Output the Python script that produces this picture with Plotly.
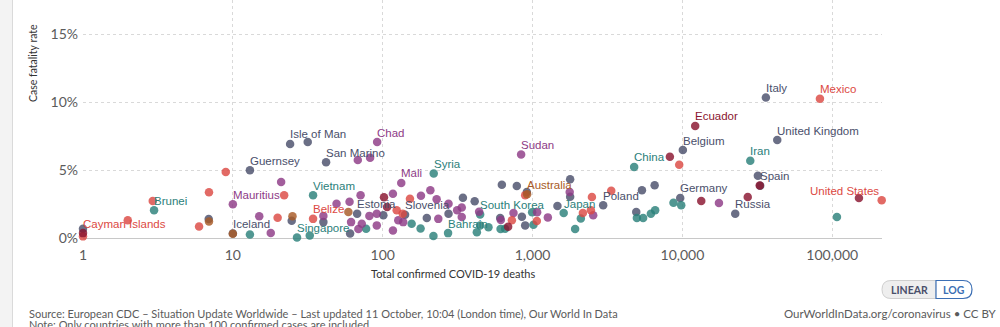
import math
import plotly.graph_objects as go

# ---------------- data ----------------
# Unlabelled points, per continent: total confirmed deaths, case fatality rate (%)
europe_deaths = [1, 31.6, 24.7, 40.2, 60.6, 101, 197, 275, 343, 411, 624, 785, 916, 608,
                 849, 893, 1466, 1782, 1782, 5370, 6530, 4920, 31900, 6.9]
europe_cfr = [0.68, 7.07, 1.27, 1.17, 0.33, 1.67, 1.48, 1.79, 2.96, 2.70, 3.93, 3.84, 3.39, 1.48,
              1.56, 0.93, 2.36, 4.33, 3.04, 3.52, 3.89, 1.91, 4.58, 1.4]

asia_deaths = [13, 77.5, 156, 179, 218, 425, 508, 612, 656, 994, 1014, 2100, 1924, 4970,
               5470, 6160, 6580, 8720, 9820, 107500, 447, 32.6]
asia_cfr = [0.26, 0.68, 1.05, 0.70, 0.15, 0.43, 0.80, 0.67, 0.68, 1.89, 0.98, 1.44, 0.67, 1.47,
            1.47, 1.79, 2.04, 2.59, 2.41, 1.54, 0.93, 0.19]

africa_deaths = [15, 17.9, 21, 68.2, 82.4, 40.2, 49.2, 60.1, 71.2, 61.5, 68.8, 72.5, 81.5, 91.3,
                 91.3, 117, 127, 137, 117, 180, 208, 229, 235, 275, 314, 337, 337, 440, 614,
                 746, 1073, 1265, 1770, 2540, 17530]
africa_cfr = [1.61, 0.37, 4.13, 5.74, 5.91, 1.63, 2.53, 2.67, 3.15, 1.17, 0.67, 1.05, 1.63, 1.79,
              0.93, 3.26, 1.30, 1.17, 0.56, 3.11, 3.52, 2.85, 1.41, 2.53, 2.04, 2.24, 1.54, 1.93,
              1.33, 1.84, 1.89, 1.52, 3.39, 1.67, 2.58]

n_america_deaths = [8.97, 6.93, 5.95, 1.99, 2.92, 19.9, 22, 124, 136, 152, 728, 893, 1068,
                    2167, 2450, 2490, 3350, 9520]
n_america_cfr = [4.87, 3.37, 0.85, 1.30, 2.73, 1.50, 3.15, 2.04, 1.79, 2.89, 1.30, 3.15, 1.26,
                 1.84, 2.04, 3.02, 3.48, 5.39]

s_america_deaths = [8250, 13360, 27290, 32820, 150700, 102, 107, 687, 1]
s_america_cfr = [5.99, 2.73, 3.02, 3.87, 2.95, 3.0, 2.28, 0.83, 0.36]

oceania_deaths = [6.93, 10, 25, 59]
oceania_cfr = [1.22, 0.31, 1.61, 1.91]

# Labelled countries
label_names = ["Cayman Islands", "Brunei", "Mauritius", "Iceland", "Guernsey", "Isle of Man",
               "San Marino", "Chad", "Vietnam", "Belize", "Singapore", "Mali", "Syria",
               "Estonia", "Slovenia", "Bahrain", "South Korea", "Sudan", "Australia", "Japan",
               "Poland", "China", "Belgium", "Ecuador", "Germany", "Iran", "Italy", "Spain",
               "Russia", "United Kingdom", "Mexico", "United States"]
label_continent = ["North America", "Asia", "Africa", "Europe", "Europe", "Europe",
                   "Europe", "Africa", "Asia", "North America", "Asia", "Africa", "Asia",
                   "Europe", "Europe", "Asia", "Asia", "Africa", "Oceania", "Asia",
                   "Europe", "Asia", "Europe", "South America", "Europe", "Asia", "Europe", "Europe",
                   "Europe", "Europe", "North America", "North America"]
label_deaths = [1, 2.98, 10, 10, 13, 24.1, 41.9, 91.8, 34.3, 34.3, 26.8, 133, 219,
                67.5, 141, 273, 447, 839, 920, 1614, 2960, 4765, 10070, 12170, 9670, 28370,
                36070, 33040, 22520, 42950, 82770, 213800]
label_cfr = [0.12, 2.04, 2.48, 0.33, 5.0, 6.93, 5.59, 7.07, 3.15, 1.41, 0.04, 4.06, 4.76,
             1.78, 1.72, 0.36, 1.74, 6.16, 3.22, 1.84, 2.41, 5.24, 6.48, 8.26, 2.95, 5.69,
             10.36, 3.85, 1.78, 7.22, 10.26, 2.78]

y_tick_vals = [0, 5, 10, 15]
y_tick_text = ["0%", "5%", "10%", "15%"]
x_tick_vals = [1, 10, 100, 1000, 10000, 100000]
x_tick_text = ["1", "10", "100", "1,000", "10,000", "100,000"]

# ---------------- styling ----------------
colors = {
    "Europe": "#4a4f6b",
    "Asia": "#2b807a",
    "Africa": "#8e3b86",
    "North America": "#dc4943",
    "South America": "#8a1530",
    "Oceania": "#a85a26",
}
continent_order = ["Europe", "Asia", "Africa", "North America", "Oceania", "South America"]
unlabelled = {
    "Europe": (europe_deaths, europe_cfr),
    "Asia": (asia_deaths, asia_cfr),
    "Africa": (africa_deaths, africa_cfr),
    "North America": (n_america_deaths, n_america_cfr),
    "South America": (s_america_deaths, s_america_cfr),
    "Oceania": (oceania_deaths, oceania_cfr),
}

W, H = 1000, 327
L_PX, R_PX, T_PX, B_PX = 83, 882, 0, 238


def px(x):
    return (x - L_PX) / (R_PX - L_PX)


def py(y):
    return (B_PX - y) / (B_PX - T_PX)


fig = go.Figure()
for cont in continent_order:
    idx = [i for i in range(len(label_names)) if label_continent[i] == cont]
    xs = [label_deaths[i] for i in idx]
    ys = [label_cfr[i] for i in idx]
    names = [label_names[i] for i in idx]
    ux, uy = unlabelled[cont]
    fig.add_trace(go.Scatter(
        x=list(ux) + xs, y=list(uy) + ys, mode="markers", name=cont,
        text=[""] * len(ux) + names,
        marker=dict(size=8.5, color=colors[cont], opacity=0.82, line=dict(width=0)),
        cliponaxis=False, showlegend=False, hoverinfo="text+x+y",
    ))

label_font = "Liberation Sans, Arial, sans-serif"
for name, cont, d, c in zip(label_names, label_continent, label_deaths, label_cfr):
    right = name == "United States"
    fig.add_annotation(
        x=math.log10(d), y=c, xref="x", yref="y", text=name, showarrow=False,
        xanchor="right" if right else "left", yanchor="middle",
        xshift=-1 if right else -2, yshift=12 if name == "Cayman Islands" else 9.5,
        font=dict(family=label_font, size=11.5, color=colors[cont]),
    )

fig.update_xaxes(
    type="log", range=[0, 5.332], tickvals=x_tick_vals, ticktext=x_tick_text,
    showgrid=True, gridcolor="#d9d9d9", griddash="3px,3px", gridwidth=1,
    zeroline=False, showline=False, ticks="", ticklabelstandoff=7,
    tickfont=dict(family="Lato, sans-serif", size=14, color="#5b5b5b"),
)
fig.update_yaxes(
    range=[0, 17.54], tickvals=y_tick_vals, ticktext=y_tick_text,
    showgrid=True, gridcolor="#d9d9d9", griddash="3px,3px", gridwidth=1,
    zeroline=True, zerolinecolor="#c8c8c8", zerolinewidth=1, showline=False, ticks="",
    ticklabelstandoff=4,
    tickfont=dict(family="Lato, sans-serif", size=14, color="#5b5b5b"),
)

txt_font = "Lato, sans-serif"
fig.add_annotation(x=px(33), y=py(63), xref="paper", yref="paper", text="Case fatality rate",
                   textangle=-90, showarrow=False, xanchor="center", yanchor="middle",
                   font=dict(family=txt_font, size=10.5, color="#333"))
fig.add_annotation(x=px(453), y=py(273), xref="paper", yref="paper",
                   text="Total confirmed COVID-19 deaths", showarrow=False,
                   xanchor="center", yanchor="middle",
                   font=dict(family=txt_font, size=11, color="#333"))
fig.add_annotation(x=px(27), y=py(313), xref="paper", yref="paper",
                   text="Source: European CDC – Situation Update Worldwide – Last updated 11 October, 10:04 (London time), Our World In Data",
                   showarrow=False, xanchor="left", yanchor="middle",
                   font=dict(family=txt_font, size=11, color="#5b5b5b"))
fig.add_annotation(x=px(27), y=py(324), xref="paper", yref="paper",
                   text="Note: Only countries with more than 100 confirmed cases are included",
                   showarrow=False, xanchor="left", yanchor="middle",
                   font=dict(family=txt_font, size=11, color="#5b5b5b"))
fig.add_annotation(x=px(999), y=py(313), xref="paper", yref="paper",
                   text="OurWorldInData.org/coronavirus • CC BY",
                   showarrow=False, xanchor="right", yanchor="middle",
                   font=dict(family=txt_font, size=11.5, color="#5b5b5b"))

# left page strip
fig.add_shape(type="rect", xref="paper", yref="paper", x0=px(0), x1=px(12.5), y0=py(H + 5), y1=py(-5),
              fillcolor="#f3f3f3", line=dict(width=0), layer="below")
fig.add_shape(type="line", xref="paper", yref="paper", x0=px(12.5), x1=px(12.5), y0=py(H + 5), y1=py(-5),
              line=dict(color="#dadada", width=1))


# LINEAR / LOG toggle
def pill(x0, x1, y0, y1, r, left_round, right_round):
    ym = (y0 + y1) / 2
    p = []
    if left_round:
        p.append(f"M{px(x0 + r)},{py(y0)}")
    else:
        p.append(f"M{px(x0)},{py(y0)}")
    if right_round:
        p.append(f"L{px(x1 - r)},{py(y0)}")
        p.append(f"Q{px(x1)},{py(y0)} {px(x1)},{py(ym)}")
        p.append(f"Q{px(x1)},{py(y1)} {px(x1 - r)},{py(y1)}")
    else:
        p.append(f"L{px(x1)},{py(y0)} L{px(x1)},{py(y1)}")
    if left_round:
        p.append(f"L{px(x0 + r)},{py(y1)}")
        p.append(f"Q{px(x0)},{py(y1)} {px(x0)},{py(ym)}")
        p.append(f"Q{px(x0)},{py(y0)} {px(x0 + r)},{py(y0)}")
    else:
        p.append(f"L{px(x0)},{py(y1)}")
    p.append("Z")
    return " ".join(p)


fig.add_shape(type="path", xref="paper", yref="paper",
              path=pill(882, 936, 280.5, 298.5, 9, True, False),
              fillcolor="#eeeeee", line=dict(color="#cfcfcf", width=1))
fig.add_shape(type="path", xref="paper", yref="paper",
              path=pill(936, 972, 280.5, 298.5, 9, False, True),
              fillcolor="#ffffff", line=dict(color="#3c6fb4", width=1.2))
fig.add_annotation(x=px(909), y=py(290), xref="paper", yref="paper", text="<b>LINEAR</b>",
                   showarrow=False, xanchor="center", yanchor="middle",
                   font=dict(family=txt_font, size=10.5, color="#4a4f6b"))
fig.add_annotation(x=px(954), y=py(290), xref="paper", yref="paper", text="<b>LOG</b>",
                   showarrow=False, xanchor="center", yanchor="middle",
                   font=dict(family=txt_font, size=10.5, color="#3c6fb4"))

fig.update_layout(
    width=W, height=H,
    margin=dict(l=L_PX, r=W - R_PX, t=T_PX, b=H - B_PX, pad=0),
    paper_bgcolor="white", plot_bgcolor="white",
    font=dict(family=txt_font),
    showlegend=False,
)

fig.write_html("out.html")
